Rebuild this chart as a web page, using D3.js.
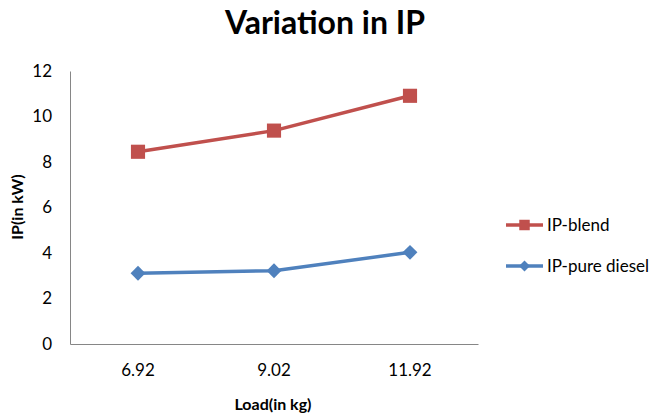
<!DOCTYPE html>
<html>
<head>
<meta charset="utf-8">
<script src="https://cdn.jsdelivr.net/npm/d3@7"></script>
<style>
  html, body { margin: 0; padding: 0; background: #fff; }
  svg { display: block; font-family: Lato, "Open Sans", "Liberation Sans", sans-serif; }
</style>
</head>
<body>
<svg id="chart" width="656" height="418"></svg>
<script>
// Load values on the x axis
const loads = ["6.92", "9.02", "11.92"];
// Indicated power (kW) for each fuel
const ipBlend = [8.45, 9.38, 10.91];
const ipPureDiesel = [3.11, 3.22, 4.03];
const yTicks = [0, 2, 4, 6, 8, 10, 12];

// Diamond drawn as a square turned 45 degrees (equal width and height)
const diamond = {
  draw(ctx, size) {
    const r = Math.sqrt(size / 2);
    ctx.moveTo(0, -r); ctx.lineTo(r, 0); ctx.lineTo(0, r); ctx.lineTo(-r, 0); ctx.closePath();
  }
};

const series = [
  { name: "IP-blend", values: ipBlend, color: "#C0504D", symbol: d3.symbolSquare, size: 200 },
  { name: "IP-pure diesel", values: ipPureDiesel, color: "#4F81BD", symbol: diamond, size: 110 }
];

const svg = d3.select("#chart");
const plot = { left: 70, right: 478, top: 71, bottom: 344 };

const x = d3.scaleBand().domain(loads).range([plot.left, plot.right]).padding(0);
const y = d3.scaleLinear().domain([0, 12]).range([plot.bottom, plot.top]);

// Title
svg.append("text")
  .attr("x", 325).attr("y", 34)
  .attr("text-anchor", "middle")
  .attr("font-size", 32).attr("font-weight", "bold")
  .attr("fill", "#000")
  .text("Variation in IP");

// Y axis
const yAxis = svg.append("g")
  .attr("transform", `translate(${plot.left},0)`)
  .call(d3.axisLeft(y).tickValues(yTicks).tickSize(0).tickPadding(18));
yAxis.select(".domain").attr("stroke", "#868686").attr("stroke-width", 1);
yAxis.selectAll("text").attr("font-size", 17).attr("fill", "#000").attr("font-family", "Lato, sans-serif");

// X axis
const xAxis = svg.append("g")
  .attr("transform", `translate(0,${plot.bottom})`)
  .call(d3.axisBottom(x).tickSize(0).tickPadding(20));
xAxis.select(".domain").attr("stroke", "#868686").attr("stroke-width", 1);
xAxis.selectAll("text").attr("font-size", 17).attr("fill", "#000").attr("font-family", "Lato, sans-serif");

// Axis titles
svg.append("text")
  .attr("transform", "translate(23,207) rotate(-90)")
  .attr("text-anchor", "middle")
  .attr("font-size", 16).attr("font-weight", "bold")
  .text("IP(in kW)");

svg.append("text")
  .attr("x", 273).attr("y", 410)
  .attr("text-anchor", "middle")
  .attr("font-size", 16).attr("font-weight", "bold")
  .text("Load(in kg)");

// Lines and markers
const line = d3.line()
  .x((d, i) => x(loads[i]) + x.bandwidth() / 2)
  .y(d => y(d));

series.forEach(s => {
  svg.append("path")
    .datum(s.values)
    .attr("d", line)
    .attr("fill", "none")
    .attr("stroke", s.color)
    .attr("stroke-width", 3.5)
    .attr("stroke-linejoin", "round");

  svg.selectAll(null)
    .data(s.values)
    .enter().append("path")
    .attr("d", d3.symbol().type(s.symbol).size(s.size))
    .attr("transform", (d, i) => `translate(${x(loads[i]) + x.bandwidth() / 2},${y(d)})`)
    .attr("fill", s.color);
});

// Legend
const legend = svg.append("g");
series.forEach((s, i) => {
  const ly = 225 + i * 41;
  legend.append("line")
    .attr("x1", 506).attr("x2", 543)
    .attr("y1", ly).attr("y2", ly)
    .attr("stroke", s.color).attr("stroke-width", 3.5);
  legend.append("path")
    .attr("d", d3.symbol().type(s.symbol).size(s.size * 0.55))
    .attr("transform", `translate(524.5,${ly})`)
    .attr("fill", s.color);
  legend.append("text")
    .attr("x", 547).attr("y", ly + 6)
    .attr("font-size", 17)
    .attr("fill", "#000")
    .text(s.name);
});
</script>
</body>
</html>
